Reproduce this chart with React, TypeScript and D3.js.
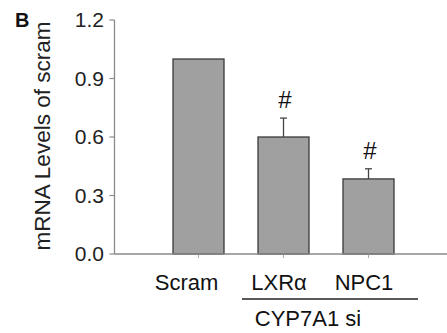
import React from "react";
import * as d3 from "d3";

const categories = ["Scram", "LXRα", "NPC1"];
const values = [1.0, 0.6, 0.385];
const errors = [0, 0.097, 0.052];
const marks = ["", "#", "#"];
const yTicks = [0.0, 0.3, 0.6, 0.9, 1.2];
const groupLabel = "CYP7A1 si";
const yTitle = "mRNA Levels of scram";
const panelLabel = "B";

const W = 447;
const H = 333;
const FONT = "Liberation Sans, Arial, sans-serif";

export default function App() {
  const y = d3.scaleLinear().domain([0, 1.2]).range([254, 20]);
  const x = d3
    .scaleBand<string>()
    .domain(categories)
    .range([156, 411])
    .paddingInner(0.4)
    .paddingOuter(0.2);
  const bw = x.bandwidth();
  const axisX = 114.5;
  const labelDx = [-12, -4.5, -4.5];

  const lxr = x(categories[1])!;
  const npc = x(categories[2])!;

  return (
    <svg
      width={W}
      height={H}
      style={{ position: "absolute", left: 0, top: 0, background: "#fff" }}
      fontFamily={FONT}
    >
      <text x={15} y={27} fontSize={20} fontWeight="bold" fill="#111">
        {panelLabel}
      </text>
      <text
        transform={`translate(50,136) rotate(-90)`}
        textAnchor="middle"
        fontSize={22.5}
        fill="#222"
      >
        {yTitle}
      </text>
      {/* y axis */}
      <line x1={axisX} x2={axisX} y1={y(1.2)} y2={y(0)} stroke="#8a8a8a" strokeWidth={1.3} />
      {yTicks.map((t) => (
        <g key={t}>
          <line x1={axisX - 5} x2={axisX} y1={y(t)} y2={y(t)} stroke="#8a8a8a" strokeWidth={1.2} />
          <text
            x={104}
            y={y(t)}
            dy="0.35em"
            textAnchor="end"
            fontSize={21}
            fill="#222"
          >
            {d3.format(".1f")(t)}
          </text>
        </g>
      ))}
      {/* bars */}
      {categories.map((c, i) => {
        const x0 = x(c)!;
        const cx = x0 + bw / 2;
        return (
          <g key={c}>
            <rect
              x={x0}
              y={y(values[i])}
              width={bw}
              height={y(0) - y(values[i])}
              fill="#a0a0a0"
              stroke="#3a3a3a"
              strokeWidth={1.3}
            />
            {errors[i] > 0 && (
              <g stroke="#444" strokeWidth={1.3}>
                <line x1={cx} x2={cx} y1={y(values[i])} y2={y(values[i] + errors[i])} />
                <line x1={cx - 3.5} x2={cx + 3.5} y1={y(values[i] + errors[i])} y2={y(values[i] + errors[i])} />
              </g>
            )}
            {marks[i] && (
              <text
                x={cx + 1.5}
                y={y(values[i] + errors[i]) - 10}
                textAnchor="middle"
                fontSize={24}
                fill="#111"
              >
                {marks[i]}
              </text>
            )}
            <line x1={cx} x2={cx} y1={y(0)} y2={y(0) + 4} stroke="#aaa" strokeWidth={1} />
            <text
              x={cx + labelDx[i]}
              y={290}
              textAnchor="middle"
              fontSize={22}
              fill="#111"
            >
              {c}
            </text>
          </g>
        );
      })}
      {/* x axis */}
      <line x1={axisX} x2={W} y1={y(0)} y2={y(0)} stroke="#8a8a8a" strokeWidth={1.3} />
      {/* group line */}
      <line x1={lxr - 16} x2={npc + bw + 24} y1={299} y2={299} stroke="#222" strokeWidth={1.5} />
      <text x={308} y={326} textAnchor="middle" fontSize={22} fill="#111">
        {groupLabel}
      </text>
    </svg>
  );
}
